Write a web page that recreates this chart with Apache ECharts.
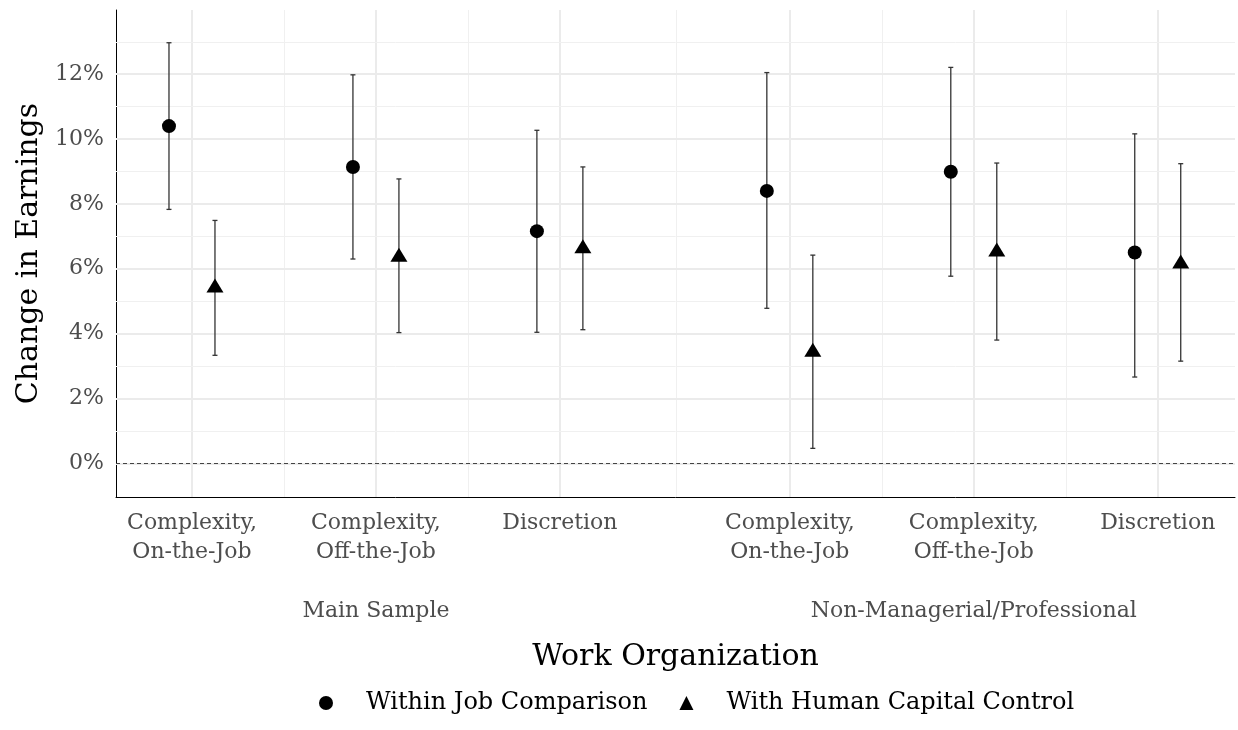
<!DOCTYPE html>
<html>
<head>
<meta charset="UTF-8">
<script src="https://cdn.jsdelivr.net/npm/echarts@6/dist/echarts.min.js"></script>
<title>Change in Earnings by Work Organization</title>
<style>
  html, body { margin: 0; padding: 0; background: #fff; }
  #chart { width: 1238px; height: 730px; }
</style>
</head>
<body>
<div id="chart"></div>
<script type="text/javascript">
// categories along the x axis (positions on a continuous scale)
var categories = ['Complexity,\nOn-the-Job', 'Complexity,\nOff-the-Job', 'Discretion',
                  'Complexity,\nOn-the-Job', 'Complexity,\nOff-the-Job', 'Discretion'];
var catPos     = [1, 2, 3, 4.25, 5.25, 6.25];
var gridMinorX = [1.5, 2.5, 3.625, 4.75, 5.75];
var groupNames = ['Main Sample', 'Non-Managerial/Professional'];
var groupPos   = [2, 5.25];
var dodge      = 0.125;

// y axis ticks (percent)
var yTicks      = [0, 2, 4, 6, 8, 10, 12];
var gridMinorY  = [1, 3, 5, 7, 9, 11, 13];

// Within Job Comparison: estimate, lower, upper
var withinEst = [10.40, 9.14, 7.16, 8.40, 8.99, 6.50];
var withinLo  = [7.83, 6.30, 4.04, 4.78, 5.77, 2.66];
var withinHi  = [12.97, 11.98, 10.27, 12.05, 12.21, 10.16];

// With Human Capital Control: estimate, lower, upper
var humanEst = [5.41, 6.36, 6.62, 3.43, 6.52, 6.15];
var humanLo  = [3.33, 4.03, 4.12, 0.46, 3.80, 3.15];
var humanHi  = [7.49, 8.77, 9.14, 6.42, 9.26, 9.24];

var FONT = 'DejaVu Serif';
var X_MIN = 0.587, X_MAX = 6.67;
var Y_MIN = -1.04, Y_MAX = 13.98;

function points(est, off) {
  var out = [];
  for (var i = 0; i < est.length; i++) out.push([catPos[i] + off, est[i]]);
  return out;
}
function bars(lo, hi, off) {
  var out = [];
  for (var i = 0; i < lo.length; i++) out.push([catPos[i] + off, lo[i], hi[i]]);
  return out;
}

function renderErr(params, api) {
  var x = api.value(0);
  var lo = api.coord([x, api.value(1)]);
  var hi = api.coord([x, api.value(2)]);
  var cap = 2.5;
  var st = { stroke: '#333', lineWidth: 1.3 };
  return {
    type: 'group',
    children: [
      { type: 'line', shape: { x1: lo[0], y1: lo[1], x2: hi[0], y2: hi[1] }, style: st },
      { type: 'line', shape: { x1: lo[0] - cap, y1: lo[1], x2: lo[0] + cap, y2: lo[1] }, style: st },
      { type: 'line', shape: { x1: hi[0] - cap, y1: hi[1], x2: hi[0] + cap, y2: hi[1] }, style: st }
    ]
  };
}

// grid lines as mark lines
var majorStyle = { color: '#ebebeb', width: 2, type: 'solid' };
var minorStyle = { color: '#f0f0f0', width: 1, type: 'solid' };
var gridLines = [];
catPos.forEach(function (v) { gridLines.push({ xAxis: v, lineStyle: majorStyle }); });
gridMinorX.forEach(function (v) { gridLines.push({ xAxis: v, lineStyle: minorStyle }); });
yTicks.forEach(function (v) { gridLines.push({ yAxis: v, lineStyle: majorStyle }); });
gridMinorY.forEach(function (v) { gridLines.push({ yAxis: v, lineStyle: minorStyle }); });

var myChart = echarts.init(document.getElementById('chart'));
myChart.setOption({
  animation: false,
  textStyle: { fontFamily: FONT },
  grid: { left: 116, right: 3, top: 10, bottom: 233 },
  legend: {
    bottom: 10,
    left: 314,
    itemWidth: 14,
    itemHeight: 14,
    itemGap: 32,
    textStyle: { fontFamily: FONT, fontSize: 24, color: '#000', padding: [0, 0, 0, 28] },
    data: ['Within Job Comparison', 'With Human Capital Control']
  },
  xAxis: [
    {
      type: 'value', min: X_MIN, max: X_MAX,
      splitLine: { show: false },
      axisTick: { show: false },
      axisLine: { show: true, onZero: false, lineStyle: { color: '#000', width: 1 } },
      axisLabel: {
        customValues: catPos,
        formatter: function (v) { return categories[catPos.indexOf(v)] || ''; },
        color: '#4d4d4d', fontSize: 22, lineHeight: 29, margin: 12, fontFamily: FONT
      },
      name: 'Work Organization',
      nameLocation: 'middle',
      nameGap: 145,
      nameTextStyle: { fontSize: 30, color: '#000', fontFamily: FONT }
    },
    {
      type: 'value', min: X_MIN, max: X_MAX,
      position: 'bottom', offset: 103,
      splitLine: { show: false },
      axisTick: { show: false },
      axisLine: { show: false },
      axisLabel: {
        customValues: groupPos,
        formatter: function (v) { return groupNames[groupPos.indexOf(v)] || ''; },
        color: '#4d4d4d', fontSize: 22, margin: 0, fontFamily: FONT
      }
    }
  ],
  yAxis: {
    type: 'value', min: Y_MIN, max: Y_MAX,
    splitLine: { show: false },
    axisTick: { show: false },
    axisLine: { show: true, onZero: false, lineStyle: { color: '#000', width: 1 } },
    axisLabel: {
      customValues: yTicks,
      formatter: function (v) { return v + '%'; },
      color: '#4d4d4d', fontSize: 22, margin: 12, fontFamily: FONT
    },
    name: 'Change in Earnings',
    nameLocation: 'middle',
    nameGap: 70,
    nameTextStyle: { fontSize: 30, color: '#000', fontFamily: FONT }
  },
  series: [
    {
      name: 'grid', type: 'line', data: [], z: 1, silent: true,
      markLine: { silent: true, z: 1, symbol: 'none', label: { show: false }, animation: false, data: gridLines }
    },
    {
      name: 'zero', type: 'line', data: [], z: 2, silent: true,
      markLine: {
        silent: true, z: 2, symbol: 'none', label: { show: false }, animation: false,
        data: [{ yAxis: 0 }],
        lineStyle: { color: '#444', width: 1, type: [4, 3] }
      }
    },
    { name: 'errWithin', type: 'custom', renderItem: renderErr, data: bars(withinLo, withinHi, -dodge), z: 8, silent: true },
    { name: 'errHuman', type: 'custom', renderItem: renderErr, data: bars(humanLo, humanHi, dodge), z: 8, silent: true },
    {
      name: 'Within Job Comparison', type: 'scatter', symbol: 'circle', symbolSize: 14,
      itemStyle: { color: '#000', opacity: 1 }, data: points(withinEst, -dodge), z: 10
    },
    {
      name: 'With Human Capital Control', type: 'scatter', symbol: 'triangle', symbolSize: [17, 14],
      symbolOffset: [0, -2.3],
      itemStyle: { color: '#000', opacity: 1 }, data: points(humanEst, dodge), z: 10
    }
  ]
});
</script>
</body>
</html>
